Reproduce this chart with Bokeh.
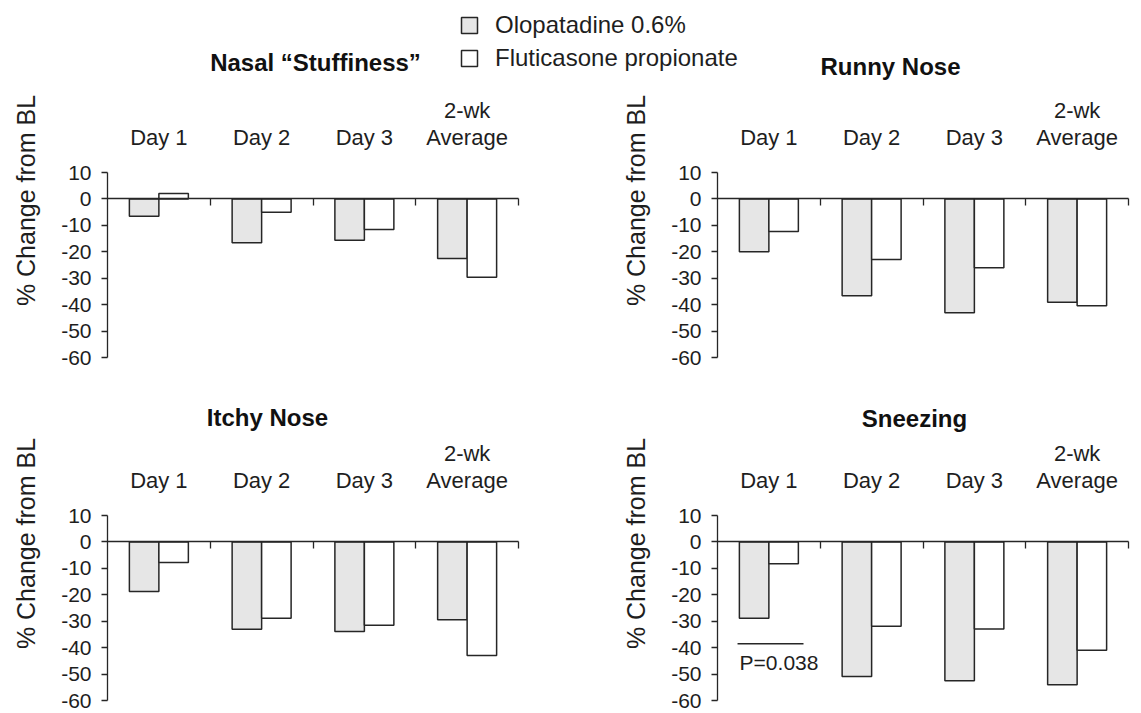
import numpy as np
from bokeh.plotting import figure
from bokeh.models import (Range1d, LinearAxis, FixedTicker, ColumnDataSource, Label, Legend,
                          LegendItem)
from bokeh.embed import file_html
from bokeh.resources import INLINE

# ---------------- data ----------------
categories = ["Day 1", "Day 2", "Day 3", "2-wk\nAverage"]
series_names = ["Olopatadine 0.6%", "Fluticasone propionate"]
panel_titles = ["Nasal \u201cStuffiness\u201d", "Runny Nose", "Itchy Nose", "Sneezing"]

stuffiness_olo = [-6.6, -16.6, -15.6, -22.5]
stuffiness_flu = [2.1, -5.0, -11.6, -29.6]
runny_olo = [-20.0, -36.6, -43.1, -39.1]
runny_flu = [-12.3, -22.9, -26.0, -40.4]
itchy_olo = [-18.8, -33.0, -33.9, -29.4]
itchy_flu = [-7.8, -28.9, -31.5, -43.0]
sneezing_olo = [-28.9, -50.9, -52.5, -54.0]
sneezing_flu = [-8.3, -31.9, -32.9, -41.0]

y_ticks = [10, 0, -10, -20, -30, -40, -50, -60]
y_label = "% Change from BL"
p_value_text = "P=0.038"
p_value_level = -38.5

# ---------------- layout / style (page pixels) ----------------
W, H = 1141, 713
FONT = "Liberation Sans"
TXT = "#1e1e1e"
OLO_FILL = "#e6e6e6"
FLU_FILL = "#ffffff"
EDGE = "#262626"
NCAT = len(categories)
cat_index = np.arange(NCAT)
BAR_W = 0.287
COL_LEFT = {"L": 107, "R": 717}      # frame left edge of each column
ROW_TOP = {"T": 172, "B": 515}       # pixel row of y = 10 for each row
FRAME_W, FRAME_H = 411, 185
YMIN, YMAX = y_ticks[-1], y_ticks[0]

ppx = FRAME_W / NCAT
ppy = FRAME_H / (YMAX - YMIN)

p = figure(width=W, height=H, x_range=Range1d(0, W), y_range=Range1d(H, 0),
           min_border=0, x_axis_location=None, y_axis_location=None,
           output_backend="svg", toolbar_location=None)
p.outline_line_color = None
p.grid.grid_line_color = None
p.background_fill_color = "white"
p.border_fill_color = "white"

# one x range per column, one y range per row, mapped onto the shared canvas
for name, left in COL_LEFT.items():
    x0 = -0.5 - left / ppx
    p.extra_x_ranges[name] = Range1d(x0, x0 + W / ppx)
for name, top in ROW_TOP.items():
    y_top = YMAX + top / ppy
    p.extra_y_ranges[name] = Range1d(y_top - H / ppy, y_top)

panels = [
    ("L", "T", panel_titles[0], stuffiness_olo, stuffiness_flu),
    ("R", "T", panel_titles[1], runny_olo, runny_flu),
    ("L", "B", panel_titles[2], itchy_olo, itchy_flu),
    ("R", "B", panel_titles[3], sneezing_olo, sneezing_flu),
]
title_pos = [(315, 62), (890, 66), (267, 417), (914, 418)]
ylabel_pos = {("L", "T"): (25, 200), ("R", "T"): (635, 200),
              ("L", "B"): (25, 543), ("R", "B"): (635, 543)}

legend_renderers = None
for k, (cx, ry, title, olo, flu) in enumerate(panels):
    src = ColumnDataSource(dict(cat=categories, olo=olo, flu=flu,
                                x_olo=cat_index - BAR_W / 2, x_flu=cat_index + BAR_W / 2))

    # y axis
    yax = LinearAxis(x_range_name=cx, y_range_name=ry, fixed_location=-0.5, bounds=(YMIN, YMAX),
                     ticker=FixedTicker(ticks=y_ticks),
                     major_label_overrides={t: str(t) for t in y_ticks})
    yax.major_tick_in = 0
    yax.major_tick_out = 6
    yax.minor_tick_line_color = None
    yax.axis_line_color = EDGE
    yax.axis_line_width = 1.3
    yax.major_tick_line_color = EDGE
    yax.major_tick_line_width = 1.3
    yax.major_label_standoff = 10
    yax.major_label_text_font = FONT
    yax.major_label_text_font_size = "21px"
    yax.major_label_text_color = TXT
    p.add_layout(yax, "left")

    # category labels above the panel
    top_ax = LinearAxis(x_range_name=cx, y_range_name=ry, fixed_location=YMAX, bounds=(-0.5, NCAT - 0.5),
                        ticker=FixedTicker(ticks=list(cat_index)),
                        major_label_overrides={int(i): c for i, c in zip(cat_index, categories)})
    top_ax.axis_line_color = None
    top_ax.major_tick_line_color = None
    top_ax.minor_tick_line_color = None
    top_ax.major_label_standoff = 17
    top_ax.major_label_text_font = FONT
    top_ax.major_label_text_font_size = "22px"
    top_ax.major_label_text_line_height = 1.05
    top_ax.major_label_text_color = TXT
    p.add_layout(top_ax, "above")

    # zero line with category-boundary ticks
    zero_ax = LinearAxis(x_range_name=cx, y_range_name=ry, fixed_location=0, bounds=(-0.5, NCAT - 0.5),
                         ticker=FixedTicker(ticks=list(cat_index + 0.5)),
                         major_label_overrides={float(t): "" for t in cat_index + 0.5})
    zero_ax.axis_line_color = EDGE
    zero_ax.axis_line_width = 1.5
    zero_ax.major_tick_in = 0
    zero_ax.major_tick_out = 7
    zero_ax.major_tick_line_color = EDGE
    zero_ax.major_tick_line_width = 1.3
    zero_ax.minor_tick_line_color = None
    zero_ax.major_label_standoff = 0
    p.add_layout(zero_ax, "below")

    r_olo = p.vbar(x="x_olo", top="olo", width=BAR_W, source=src, x_range_name=cx, y_range_name=ry,
                   fill_color=OLO_FILL, line_color=EDGE, line_width=1.5)
    r_flu = p.vbar(x="x_flu", top="flu", width=BAR_W, source=src, x_range_name=cx, y_range_name=ry,
                   fill_color=FLU_FILL, line_color=EDGE, line_width=1.5)
    if legend_renderers is None:
        legend_renderers = (r_olo, r_flu)

    tx, ty = title_pos[k]
    p.add_layout(Label(x=tx, y=ty, text=title, text_align="center", text_baseline="middle",
                       text_font=FONT, text_font_style="bold", text_font_size="24px",
                       text_color="#111111"))
    lx, ly = ylabel_pos[(cx, ry)]
    p.add_layout(Label(x=lx, y=ly, text=y_label, angle=np.pi / 2, text_align="center",
                       text_baseline="middle", text_font=FONT, text_font_size="25px",
                       text_color=TXT))

    if title == "Sneezing":
        p.segment(x0=[-0.305], x1=[0.337], y0=[p_value_level], y1=[p_value_level],
                  x_range_name=cx, y_range_name=ry, line_color=EDGE, line_width=1.5)
        p.add_layout(Label(x=-0.285, y=p_value_level - 7.1, x_range_name=cx, y_range_name=ry,
                           text=p_value_text, text_align="left", text_baseline="middle",
                           text_font=FONT, text_font_size="21px", text_color=TXT))

legend = Legend(items=[LegendItem(label=series_names[0], renderers=[legend_renderers[0]]),
                       LegendItem(label=series_names[1], renderers=[legend_renderers[1]])],
                location=(459, H - 72), orientation="vertical",
                glyph_width=20, glyph_height=20, label_standoff=16, spacing=5,
                padding=0, margin=0, border_line_color=None, background_fill_alpha=0,
                label_text_font=FONT, label_text_font_size="24px", label_text_color=TXT)
p.add_layout(legend)

open("out.html", "w").write(file_html(p, INLINE))
